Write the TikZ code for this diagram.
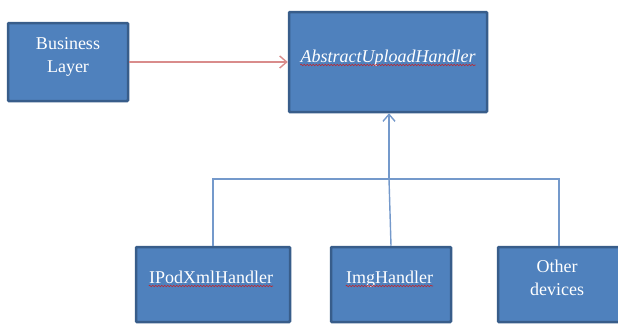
\documentclass[tikz,border=0pt]{standalone}
\usepackage{fontspec}
\setmainfont{Liberation Serif}
\usetikzlibrary{arrows.meta,decorations.pathmorphing}
\definecolor{boxfill}{HTML}{4F81BD}
\definecolor{boxedge}{HTML}{385D8A}
\definecolor{linkblue}{HTML}{7499CB}
\definecolor{linkred}{HTML}{D98C8B}
\definecolor{squiggle}{HTML}{C0262D}
\tikzset{
  box/.style={draw=boxedge, fill=boxfill, line width=2.5pt, rounded corners=1pt, inner sep=0pt},
  lbl/.style={text=white, font=\fontsize{18}{23}\selectfont, inner sep=0pt, anchor=base, align=center},
  inherit/.style={draw=linkblue, line width=1.4pt},
  opentip/.style={-{Straight Barb[length=7pt,width=12pt,line width=1.4pt]}},
  wavy/.style={draw=squiggle, line width=0.6pt, decorate, decoration={snake, amplitude=0.8pt, segment length=3pt}}
}
\begin{document}
\begin{tikzpicture}[x=1pt,y=1pt]
\useasboundingbox (0,0) rectangle (618,325);

% boxes
\node[box, minimum width=120pt, minimum height=78pt] (bl) at (68,263) {};
\node[box, minimum width=198pt, minimum height=100pt] (auh) at (388,263) {};
\node[box, minimum width=154pt, minimum height=75pt] (ipod) at (213,40.5) {};
\node[box, minimum width=120pt, minimum height=75pt] (img) at (391,40.5) {};
\node[box, minimum width=122pt, minimum height=75pt] (other) at (559,40.5) {};

% labels (base anchor sits on the last line)
\node[lbl] (blt) at (68,253) {Business\\Layer};
\node[lbl] (auht) at (388,263) {\itshape AbstractUploadHandler};
\node[lbl] (ipodt) at (211,42) {IPodXmlHandler};
\node[lbl] (imgt) at (389.5,42) {ImgHandler};
\node[lbl] (othert) at (557,30) {Other\\devices};

% spell-check underlines
\draw[wavy] ([yshift=-3pt]auht.base west) -- ([yshift=-3pt]auht.base east);
\draw[wavy] ([yshift=-3pt]ipodt.base west) -- ([yshift=-3pt]ipodt.base east);
\draw[wavy] ([yshift=-3pt]imgt.base west) -- ([yshift=-3pt]imgt.base east);

% association
\draw[draw=linkred, line width=1.4pt, opentip] (bl.east) -- (auh.west);

% inheritance tree
\coordinate (junc) at (389,146);
\draw[inherit] (ipod.north) |- (junc) -| (other.north);
\draw[inherit] (img.north) -- (junc);
\draw[inherit, opentip] (junc) -- (junc |- auh.south);
\end{tikzpicture}
\end{document}
